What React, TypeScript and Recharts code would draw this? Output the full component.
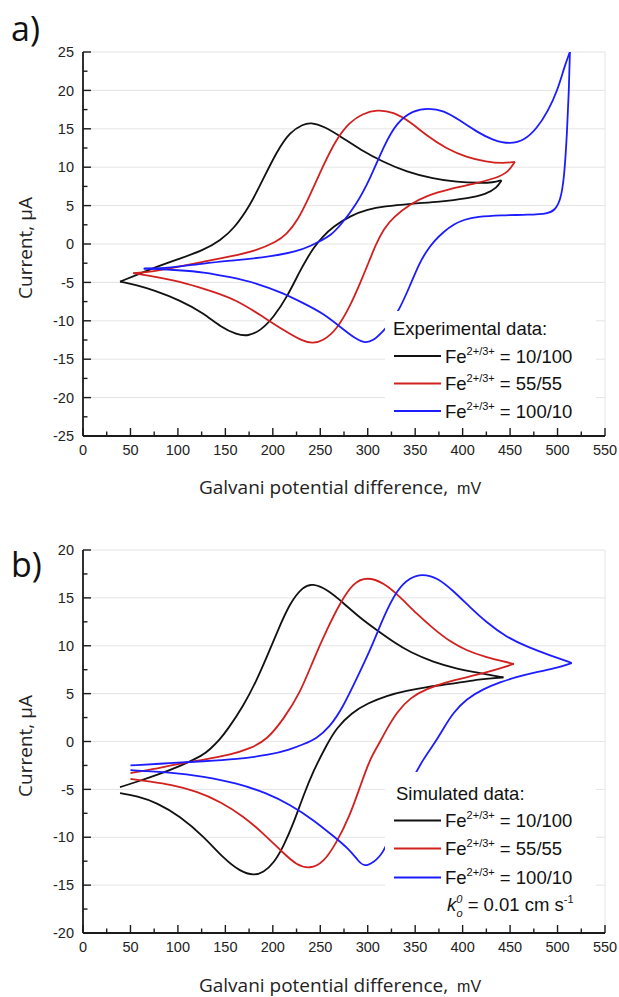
import React from 'react';
import { LineChart, Line, XAxis, YAxis, CartesianGrid } from 'recharts';

type Pt = [number, number];

// a) experimental CVs, [potential mV, current µA], each branch listed by increasing potential
const expBlackFwd: Pt[] = [[39, -4.9], [57, -4.0], [81, -2.8], [102, -1.9], [127, -0.8], [145, 0.5], [159, 2.0], [176, 5.0], [190, 8.5], [204, 12.0], [218, 14.6], [232, 15.6], [240, 15.8], [253, 15.4], [274, 13.8], [292, 12.3], [316, 10.7], [341, 9.4], [369, 8.5], [394, 8.05], [418, 7.95], [432, 8.0], [441, 8.3]];
const expBlackRev: Pt[] = [[39, -4.9], [57, -5.35], [74, -6.0], [102, -7.3], [127, -9.0], [145, -10.8], [162, -11.8], [174, -12.0], [187, -11.3], [201, -9.5], [215, -6.9], [229, -3.4], [236, -1.9], [243, -0.5], [252, 0.9], [264, 2.3], [282, 3.7], [300, 4.5], [317, 4.9], [345, 5.25], [376, 5.5], [404, 5.9], [425, 6.5], [436, 7.3], [441, 8.3]];
const expRedFwd: Pt[] = [[53, -3.8], [74, -3.6], [99, -3.0], [127, -2.3], [155, -1.65], [183, -0.85], [204, 0.3], [214, 1.2], [226, 3.0], [239, 6.3], [253, 10.2], [267, 13.7], [281, 15.9], [295, 17.0], [310, 17.5], [327, 17.2], [345, 15.9], [362, 14.1], [383, 12.4], [404, 11.3], [425, 10.7], [443, 10.5], [455, 10.7]];
const expRedRev: Pt[] = [[53, -3.8], [78, -4.3], [109, -5.1], [137, -6.2], [162, -7.3], [190, -9.5], [211, -11.2], [232, -12.7], [242, -12.95], [253, -12.6], [267, -11.2], [281, -8.2], [292, -5.1], [302, -2.1], [308, -0.2], [317, 2.0], [327, 3.5], [345, 5.2], [362, 6.3], [387, 7.2], [411, 7.8], [436, 8.6], [448, 9.35], [455, 10.7]];
const expBlueFwd: Pt[] = [[64, -3.2], [92, -3.15], [127, -2.5], [162, -2.1], [197, -1.65], [225, -1.0], [241, -0.2], [250, 0.4], [261, 1.1], [271, 2.4], [287, 4.9], [303, 8.6], [317, 12.8], [331, 15.9], [348, 17.4], [364, 17.7], [380, 17.4], [397, 16.1], [415, 14.6], [432, 13.5], [450, 13.0], [465, 13.5], [478, 15.0], [490, 17.3], [500, 20.0], [507, 23.0], [513, 25.0]];
const expBlueRev: Pt[] = [[64, -3.2], [78, -3.25], [99, -3.4], [127, -3.65], [155, -4.3], [183, -5.1], [211, -6.4], [232, -7.7], [253, -9.0], [275, -11.2], [288, -12.4], [297, -12.9], [306, -12.6], [316, -11.4], [325, -10.1], [333, -8.6], [344, -5.6], [354, -2.6], [362, -0.9], [370, 0.4], [380, 1.6], [391, 2.6], [402, 3.2], [415, 3.55], [440, 3.75], [470, 3.8], [490, 3.95], [497, 4.4], [503, 5.6], [507, 8.5], [510, 14.5], [512, 20.0], [513, 25.0]];

// b) simulated CVs
const simBlackFwd: Pt[] = [[39, -4.77], [57, -4.2], [78, -3.5], [102, -2.6], [127, -1.4], [134, -0.8], [144, 0.2], [152, 1.2], [169, 3.7], [183, 6.4], [194, 8.9], [204, 11.3], [218, 14.5], [232, 16.2], [242, 16.5], [257, 15.9], [274, 14.5], [292, 12.9], [310, 11.6], [327, 10.4], [345, 9.3], [369, 8.3], [394, 7.6], [415, 7.2], [432, 6.9], [443, 6.7]];
const simBlackRev: Pt[] = [[39, -5.4], [57, -5.7], [78, -6.4], [102, -7.8], [127, -9.9], [148, -12.2], [166, -13.6], [180, -14.0], [190, -13.7], [201, -12.7], [211, -11.0], [222, -8.5], [232, -5.7], [243, -3.0], [257, -0.3], [267, 1.4], [283, 3.0], [300, 4.0], [320, 4.8], [341, 5.3], [362, 5.7], [387, 6.0], [411, 6.4], [432, 6.6], [443, 6.7]];
const simRedFwd: Pt[] = [[50, -3.3], [74, -2.9], [102, -2.3], [127, -1.9], [155, -1.4], [176, -0.75], [194, 0.2], [211, 2.3], [229, 5.1], [243, 8.6], [257, 11.7], [271, 14.5], [285, 16.6], [299, 17.2], [317, 16.6], [334, 15.1], [352, 13.3], [369, 11.8], [387, 10.4], [404, 9.5], [425, 8.8], [443, 8.35], [454, 8.1]];
const simRedRev: Pt[] = [[50, -3.9], [71, -4.2], [92, -4.5], [120, -5.2], [145, -6.3], [169, -7.8], [190, -9.6], [211, -11.65], [225, -12.9], [239, -13.3], [253, -12.7], [267, -10.6], [281, -7.8], [292, -4.7], [302, -1.9], [311, -0.4], [320, 1.3], [331, 3.1], [345, 4.6], [362, 5.5], [383, 6.2], [404, 6.7], [425, 7.2], [443, 7.75], [454, 8.1]];
const simBlueFwd: Pt[] = [[50, -2.5], [92, -2.26], [127, -2.07], [162, -1.84], [197, -1.4], [218, -0.85], [232, -0.3], [246, 0.3], [260, 1.5], [274, 3.6], [288, 6.5], [303, 9.6], [317, 13.1], [331, 15.9], [345, 17.15], [357, 17.5], [373, 17.15], [390, 15.75], [408, 14.0], [425, 12.45], [446, 10.9], [470, 9.8], [492, 9.0], [515, 8.2]];
const simBlueRev: Pt[] = [[50, -3.0], [92, -3.2], [127, -3.65], [162, -4.35], [194, -5.4], [218, -6.6], [243, -8.2], [264, -9.9], [281, -11.3], [290, -12.5], [297, -13.1], [306, -12.6], [316, -11.8], [330, -8.4], [343, -4.6], [358, -1.9], [371, -0.1], [380, 1.4], [390, 3.0], [404, 4.45], [422, 5.5], [440, 6.2], [455, 6.7], [480, 7.3], [500, 7.7], [515, 8.2]];

const X_MAJOR = [0, 50, 100, 150, 200, 250, 300, 350, 400, 450, 500, 550];
const X_MINOR = [25, 75, 125, 175, 225, 275, 325, 375, 425, 475, 525];
const YA_MAJOR = [-25, -20, -15, -10, -5, 0, 5, 10, 15, 20, 25];
const YA_MINOR = [-22.5, -17.5, -12.5, -7.5, -2.5, 2.5, 7.5, 12.5, 17.5, 22.5];
const YB_MAJOR = [-20, -15, -10, -5, 0, 5, 10, 15, 20];
const YB_MINOR = [-17.5, -12.5, -7.5, -2.5, 2.5, 7.5, 12.5, 17.5];

const RATIOS = ['10/100', '55/55', '100/10'];
const COLORS = ['#111111', '#d2201f', '#1c1cff'];

const FONT_NUM = "'Liberation Sans', Arial, Helvetica, sans-serif";
const FONT_TITLE = "'Open Sans', 'DejaVu Sans', sans-serif";
const AXIS_LINE = { stroke: '#1b1b1b', strokeWidth: 1.8 };

const rows = (pts: Pt[]) => pts.map(([x, y]) => ({ x, y }));

// inward ticks on every side; labels only on bottom/left majors
function EdgeTick(props: any) {
  const { x, y, payload, side, majors } = props;
  const v = payload?.value;
  const major = majors.indexOf(v) >= 0;
  const len = major ? 8 : 4.5;
  const st = { stroke: '#1b1b1b', strokeWidth: 1.4 };
  if (side === 'bottom') {
    return (
      <g>
        <line x1={x} y1={y} x2={x} y2={y - len} {...st} />
        {major && (
          <text x={x} y={y + 19} textAnchor="middle" fontFamily={FONT_NUM} fontSize={14.5} fill="#222">{v}</text>
        )}
      </g>
    );
  }
  if (side === 'top') return <line x1={x} y1={y} x2={x} y2={y + len} {...st} />;
  if (side === 'right') return <line x1={x} y1={y} x2={x - len} y2={y} {...st} />;
  return (
    <g>
      <line x1={x} y1={y} x2={x + len} y2={y} {...st} />
      {major && (
        <text x={x - 9} y={y} dy="0.36em" textAnchor="end" fontFamily={FONT_NUM} fontSize={14.5} fill="#222">{v}</text>
      )}
    </g>
  );
}

type Series = { fwd: Pt[]; rev: Pt[]; color: string };

function Panel({ height, marginTop, yDomain, yMajor, yMinor, series }: {
  height: number; marginTop: number; yDomain: [number, number]; yMajor: number[]; yMinor: number[]; series: Series[];
}) {
  const xTicks = [...X_MAJOR, ...X_MINOR].sort((a, b) => a - b);
  const yTicks = [...yMajor, ...yMinor].sort((a, b) => a - b);
  return (
    <LineChart width={619} height={height} margin={{ top: marginTop, right: 14, bottom: 24, left: 23 }}>
      <XAxis xAxisId="gx" hide height={0} type="number" domain={[0, 550]} ticks={X_MAJOR} allowDataOverflow />
      <YAxis yAxisId="gy" hide width={0} type="number" domain={yDomain} ticks={yMajor} allowDataOverflow />
      <CartesianGrid xAxisId="gx" yAxisId="gy" stroke="#e4e4e4" strokeWidth={1} />
      <XAxis xAxisId="b" dataKey="x" type="number" domain={[0, 550]} ticks={xTicks} interval={0} allowDataOverflow
        height={40} tickSize={0} tickMargin={0} tickLine={false} axisLine={AXIS_LINE}
        tick={<EdgeTick side="bottom" majors={X_MAJOR} />} />
      <XAxis xAxisId="t" orientation="top" type="number" domain={[0, 550]} ticks={xTicks} interval={0} allowDataOverflow
        height={0} tickSize={0} tickMargin={0} tickLine={false} axisLine={AXIS_LINE}
        tick={<EdgeTick side="top" majors={X_MAJOR} />} />
      <YAxis yAxisId="l" type="number" domain={yDomain} ticks={yTicks} interval={0} allowDataOverflow
        width={60} tickSize={0} tickMargin={0} tickLine={false} axisLine={AXIS_LINE}
        tick={<EdgeTick side="left" majors={yMajor} />} />
      <YAxis yAxisId="r" orientation="right" type="number" domain={yDomain} ticks={yTicks} interval={0} allowDataOverflow
        width={0} tickSize={0} tickMargin={0} tickLine={false} axisLine={AXIS_LINE}
        tick={<EdgeTick side="right" majors={yMajor} />} />
      {series.flatMap((s, i) =>
        [s.fwd, s.rev].map((branch, j) => (
          <Line key={`${i}-${j}`} xAxisId="b" yAxisId="l" data={rows(branch)} dataKey="y" type="basis"
            stroke={s.color} strokeWidth={1.8} dot={false} activeDot={false} isAnimationActive={false} />
        ))
      )}
    </LineChart>
  );
}

function FeRow({ y, ratio, color }: { y: number; ratio: string; color: string }) {
  return (
    <g>
      <line x1={394} x2={441} y1={y - 6.5} y2={y - 6.5} stroke={color} strokeWidth={2} />
      <text x={445} y={y} fontFamily={FONT_NUM} fontSize={18.5} fill="#111">
        Fe<tspan dy={-8} fontSize={11}>2+/3+</tspan><tspan dy={8}>{'\u00a0= ' + ratio}</tspan>
      </text>
    </g>
  );
}

export default function App() {
  const expSeries: Series[] = [
    { fwd: expBlackFwd, rev: expBlackRev, color: COLORS[0] },
    { fwd: expRedFwd, rev: expRedRev, color: COLORS[1] },
    { fwd: expBlueFwd, rev: expBlueRev, color: COLORS[2] },
  ];
  const simSeries: Series[] = [
    { fwd: simBlackFwd, rev: simBlackRev, color: COLORS[0] },
    { fwd: simRedFwd, rev: simRedRev, color: COLORS[1] },
    { fwd: simBlueFwd, rev: simBlueRev, color: COLORS[2] },
  ];
  const topRows = [362.5, 390, 417.5];
  const botRows = [827, 855, 884];

  return (
    <div style={{ position: 'absolute', left: 0, top: 0, width: 619, height: 997, background: '#fff' }}>
      <div style={{ position: 'absolute', left: 0, top: 0 }}>
        <Panel height={500} marginTop={52} yDomain={[-25, 25]} yMajor={YA_MAJOR} yMinor={YA_MINOR} series={expSeries} />
      </div>
      <div style={{ position: 'absolute', left: 0, top: 500 }}>
        <Panel height={497} marginTop={50} yDomain={[-20, 20]} yMajor={YB_MAJOR} yMinor={YB_MINOR} series={simSeries} />
      </div>
      <svg width={619} height={997} style={{ position: 'absolute', left: 0, top: 0, pointerEvents: 'none' }}>
        <text x={11} y={41} fontFamily={FONT_TITLE} fontSize={34} fill="#111">a)</text>
        <text x={11} y={577} fontFamily={FONT_TITLE} fontSize={34} fill="#111">b)</text>
        {[248, 746].map((cy) => (
          <text key={cy} transform={`translate(25 ${cy}) rotate(-90)`} textAnchor="middle" dominantBaseline="central"
            fontFamily={FONT_TITLE} fontSize={19} fill="#222">Current, µA</text>
        ))}
        {[494, 992].map((by) => (
          <text key={by} x={340} y={by} textAnchor="middle" fontFamily={FONT_TITLE} fontSize={19} fill="#222">
            Galvani potential difference,<tspan fontFamily={FONT_NUM} fontSize={16}>{'\u00a0\u00a0mV'}</tspan>
          </text>
        ))}

        <rect x={385} y={311} width={211} height={114} fill="#fff" />
        <text x={393} y={335} fontFamily={FONT_NUM} fontSize={18.5} fill="#111">Experimental data:</text>
        {RATIOS.map((r, i) => <FeRow key={r} y={topRows[i]} ratio={r} color={COLORS[i]} />)}

        <rect x={385} y={772} width={211} height={152} fill="#fff" />
        <text x={396} y={800} fontFamily={FONT_NUM} fontSize={18.5} fill="#111">Simulated data:</text>
        {RATIOS.map((r, i) => <FeRow key={r} y={botRows[i]} ratio={r} color={COLORS[i]} />)}
        <text x={447} y={911} fontFamily={FONT_NUM} fontSize={18.5} fill="#111">
          <tspan fontStyle="italic">k</tspan>
          <tspan dy={-8} fontSize={11} fontStyle="italic">0</tspan>
          <tspan dx={-6} dy={14} fontSize={11} fontStyle="italic">o</tspan>
          <tspan dy={-6}>{'\u00a0= 0.01 cm s'}</tspan>
          <tspan dy={-8} fontSize={11}>-1</tspan>
        </text>
      </svg>
    </div>
  );
}
